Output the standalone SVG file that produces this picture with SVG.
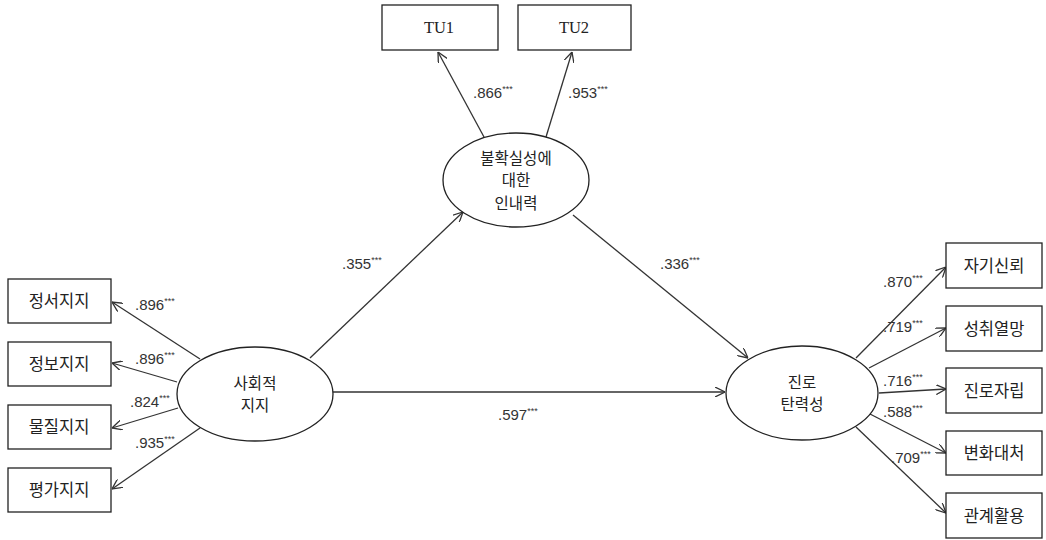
<svg xmlns="http://www.w3.org/2000/svg" width="1046" height="540" viewBox="0 0 1046 540">
<defs>
<style>
.box{fill:#fff;stroke:#222;stroke-width:1.3}
.ell{fill:#fff;stroke:#222;stroke-width:1.3}
.con{stroke:#333;stroke-width:1.3;fill:none;marker-end:url(#ah)}
.kt{font-family:"Noto Sans CJK KR","Noto Sans",sans-serif;font-size:16.5px;fill:#222;text-anchor:middle}
.et{font-size:15.5px}
.st{font-family:"Liberation Serif",serif;font-size:16.5px;fill:#222;text-anchor:middle}
.nt{font-family:"Liberation Sans",Arial,sans-serif;font-size:15px;fill:#333}
.sup{font-size:9px}
</style>
<marker id="ah" viewBox="0 0 10 10" refX="10" refY="5" markerWidth="10" markerHeight="10" markerUnits="userSpaceOnUse" orient="auto">
<path d="M0,0 L10,5 L0,10" fill="none" stroke="#333" stroke-width="1.3"/>
</marker>
</defs>
<rect width="1046" height="540" fill="#fff"/>
<g id="connectors">
<line class="con" x1="484" y1="137" x2="438" y2="52"/>
<line class="con" x1="546" y1="137" x2="572" y2="52"/>
<line class="con" x1="200" y1="359" x2="112" y2="302"/>
<line class="con" x1="177" y1="382" x2="112" y2="363"/>
<line class="con" x1="178" y1="408" x2="112" y2="428"/>
<line class="con" x1="200" y1="428" x2="112" y2="489"/>
<line class="con" x1="310" y1="358" x2="463" y2="212"/>
<line class="con" x1="573" y1="215" x2="748" y2="358"/>
<line class="con" x1="333" y1="392" x2="725" y2="392"/>
<line class="con" x1="856" y1="358" x2="946" y2="267"/>
<line class="con" x1="869" y1="368" x2="946" y2="328"/>
<line class="con" x1="879" y1="393" x2="946" y2="389"/>
<line class="con" x1="870" y1="414" x2="946" y2="453"/>
<line class="con" x1="856" y1="427" x2="946" y2="513"/>
</g>
<g id="labels">
<text class="nt" x="473" y="98">.866<tspan class="sup" dy="-6">***</tspan></text>
<text class="nt" x="568" y="98">.953<tspan class="sup" dy="-6">***</tspan></text>
<text class="nt" x="135" y="310">.896<tspan class="sup" dy="-6">***</tspan></text>
<text class="nt" x="135" y="364">.896<tspan class="sup" dy="-6">***</tspan></text>
<text class="nt" x="130" y="407">.824<tspan class="sup" dy="-6">***</tspan></text>
<text class="nt" x="135" y="448">.935<tspan class="sup" dy="-6">***</tspan></text>
<text class="nt" x="342" y="269">.355<tspan class="sup" dy="-6">***</tspan></text>
<text class="nt" x="660" y="269">.336<tspan class="sup" dy="-6">***</tspan></text>
<text class="nt" x="498" y="420">.597<tspan class="sup" dy="-6">***</tspan></text>
<text class="nt" x="883" y="287">.870<tspan class="sup" dy="-6">***</tspan></text>
<text class="nt" x="883" y="332">.719<tspan class="sup" dy="-6">***</tspan></text>
<text class="nt" x="883" y="386">.716<tspan class="sup" dy="-6">***</tspan></text>
<text class="nt" x="883" y="417">.588<tspan class="sup" dy="-6">***</tspan></text>
<text class="nt" x="891" y="463">.709<tspan class="sup" dy="-6">***</tspan></text>
</g>
<g id="TU1"><rect class="box" x="382" y="5" width="116" height="45"/><text class="st" x="439" y="33">TU1</text></g>
<g id="TU2"><rect class="box" x="518" y="5" width="113" height="45"/><text class="st" x="574" y="33">TU2</text></g>
<g id="tolerance"><ellipse class="ell" cx="516" cy="180" rx="73" ry="47"/>
<text class="kt et" x="516" y="163.5">불확실성에</text><text class="kt et" x="516" y="186">대한</text><text class="kt et" x="516" y="208.5">인내력</text></g>
<g id="social"><ellipse class="ell" cx="255" cy="394" rx="78" ry="47"/>
<text class="kt et" x="255" y="388.5">사회적</text><text class="kt et" x="255" y="411">지지</text></g>
<g id="career"><ellipse class="ell" cx="802" cy="393" rx="76" ry="47"/>
<text class="kt et" x="802" y="387.5">진로</text><text class="kt et" x="802" y="410">탄력성</text></g>
<g id="emo"><rect class="box" x="8" y="279" width="103" height="44"/><text class="kt" x="59" y="307">정서지지</text></g>
<g id="info"><rect class="box" x="8" y="342" width="103" height="44"/><text class="kt" x="59" y="370">정보지지</text></g>
<g id="mat"><rect class="box" x="8" y="405" width="103" height="44"/><text class="kt" x="59" y="433">물질지지</text></g>
<g id="eval"><rect class="box" x="8" y="468" width="103" height="44"/><text class="kt" x="59" y="496">평가지지</text></g>
<g id="self"><rect class="box" x="946" y="243" width="96" height="45"/><text class="kt" x="994" y="272">자기신뢰</text></g>
<g id="ach"><rect class="box" x="946" y="306" width="96" height="45"/><text class="kt" x="994" y="335">성취열망</text></g>
<g id="indep"><rect class="box" x="946" y="368" width="96" height="45"/><text class="kt" x="994" y="397">진로자립</text></g>
<g id="change"><rect class="box" x="946" y="431" width="96" height="44"/><text class="kt" x="994" y="459">변화대처</text></g>
<g id="rel"><rect class="box" x="946" y="493" width="96" height="45"/><text class="kt" x="994" y="522">관계활용</text></g>
</svg>
